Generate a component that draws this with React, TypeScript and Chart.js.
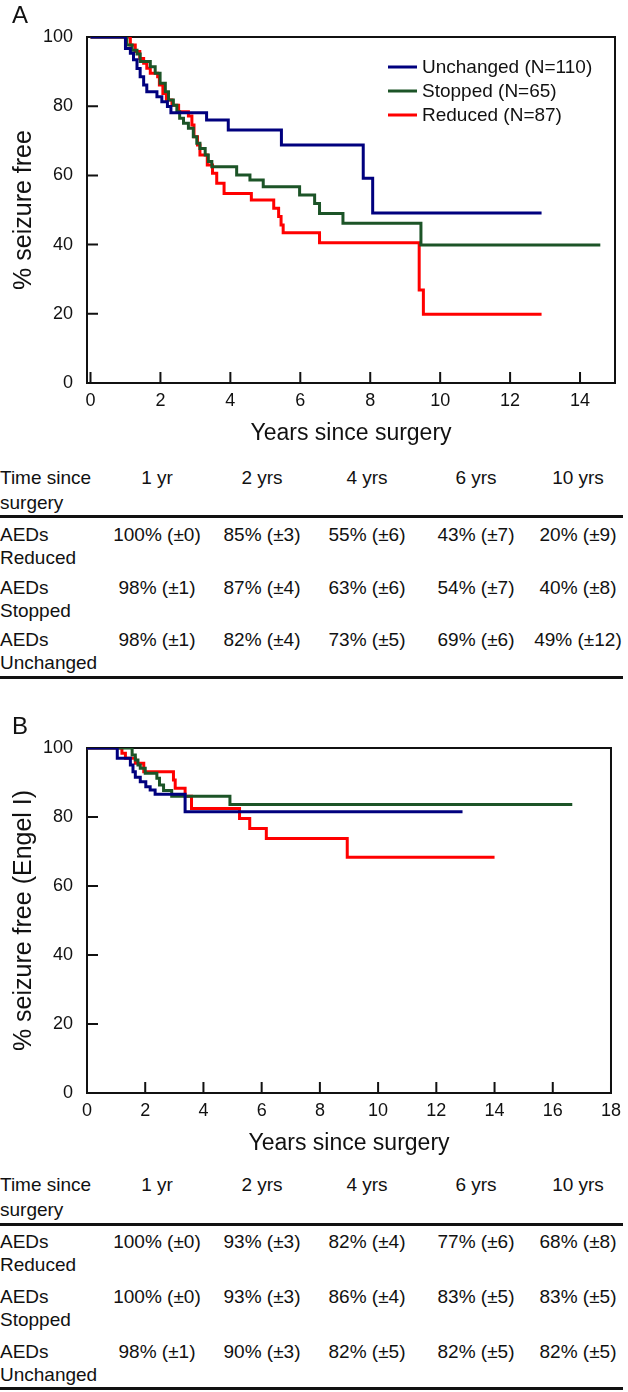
import React, { useEffect, useRef } from "react";
import { Chart, registerables } from "chart.js";
Chart.register(...registerables);

const FONT = '"Liberation Sans", Arial, Helvetica, sans-serif';
const INK = "#111111";

// ---------- Panel A : Kaplan-Meier (years, % seizure free) ----------
const unchangedA_t = [0, 1.0, 1.14, 1.23, 1.33, 1.42, 1.52, 1.61, 1.9, 2.04, 2.2, 2.3, 3.32, 3.94, 5.46, 7.8, 8.07, 12.9];
const unchangedA_s = [100, 96.7, 95.3, 93.4, 90.9, 88.5, 86.1, 84.2, 82.7, 81.3, 79.9, 78.1, 76.0, 73.1, 68.8, 59.2, 49.1, 49.1];

const stoppedA_t = [0, 1.04, 1.19, 1.33, 1.42, 1.71, 1.85, 1.99, 2.14, 2.23, 2.37, 2.47, 2.55, 2.66, 2.8, 2.94, 3.04, 3.13, 3.28, 3.37, 3.47, 4.18, 4.56, 4.94, 5.98, 6.41, 6.55, 7.22, 9.45, 14.58];
const stoppedA_s = [100, 97.7, 96.2, 95.1, 92.9, 91.4, 89.5, 86.6, 84.2, 81.8, 80.3, 78.4, 76.5, 75.1, 73.6, 71.2, 69.3, 67.8, 65.9, 64.0, 62.5, 60.1, 58.7, 56.7, 54.3, 51.9, 49.0, 46.2, 39.9, 39.9];

const reducedA_t = [0, 1.14, 1.28, 1.41, 1.52, 1.61, 1.71, 1.92, 1.97, 2.07, 2.17, 2.33, 2.52, 2.8, 2.9, 2.96, 3.06, 3.13, 3.34, 3.49, 3.61, 3.82, 4.6, 5.24, 5.38, 5.45, 5.51, 6.55, 9.4, 9.52, 12.9];
const reducedA_s = [100, 97.7, 95.8, 93.8, 92.4, 91.0, 89.5, 88.5, 86.1, 83.7, 81.8, 80.3, 78.4, 77.2, 74.6, 71.2, 68.8, 65.9, 63.0, 60.6, 57.7, 54.8, 52.9, 50.5, 48.1, 45.7, 43.4, 40.5, 26.9, 19.9, 19.9];

// ---------- Panel B : Kaplan-Meier (years, % seizure free Engel I) ----------
const unchangedB_t = [0, 1.04, 1.49, 1.58, 1.66, 1.83, 2.02, 2.17, 2.34, 3.37, 12.9];
const unchangedB_s = [100, 97.0, 95.1, 93.1, 91.5, 90.2, 88.8, 87.8, 86.6, 81.5, 81.5];

const stoppedB_t = [0, 1.55, 1.66, 1.75, 1.83, 2.0, 2.4, 2.49, 2.63, 2.91, 4.91, 16.67];
const stoppedB_s = [100, 98.0, 96.5, 95.1, 94.1, 92.7, 91.2, 89.3, 87.7, 86.0, 83.6, 83.6];

const reducedB_t = [0, 1.2, 1.32, 1.66, 1.95, 2.97, 3.03, 3.37, 3.59, 5.24, 5.59, 6.16, 8.94, 14.0];
const reducedB_s = [100, 98.5, 97.0, 95.6, 93.1, 90.7, 88.3, 86.0, 82.5, 79.6, 76.7, 73.8, 68.3, 68.3];

// ---------- Series names ----------
const seriesLabels = ["Unchanged (N=110)", "Stopped (N=65)", "Reduced (N=87)"];
const seriesColors = ["#00007e", "#1c5427", "#ff0000"];

// ---------- Tables ----------
const timeLabels = ["1 yr", "2 yrs", "4 yrs", "6 yrs", "10 yrs"];
const rowLabels = [["AEDs", "Reduced"], ["AEDs", "Stopped"], ["AEDs", "Unchanged"]];
const tableA_reduced = ["100% (±0)", "85% (±3)", "55% (±6)", "43% (±7)", "20% (±9)"];
const tableA_stopped = ["98% (±1)", "87% (±4)", "63% (±6)", "54% (±7)", "40% (±8)"];
const tableA_unchanged = ["98% (±1)", "82% (±4)", "73% (±5)", "69% (±6)", "49% (±12)"];
const tableB_reduced = ["100% (±0)", "93% (±3)", "82% (±4)", "77% (±6)", "68% (±8)"];
const tableB_stopped = ["100% (±0)", "93% (±3)", "86% (±4)", "83% (±5)", "83% (±5)"];
const tableB_unchanged = ["98% (±1)", "90% (±3)", "82% (±5)", "82% (±5)", "82% (±5)"];

const colCenters = [157, 262, 367, 476, 578];

function pts(t: number[], s: number[]) {
  return t.map((x, i) => ({ x, y: s[i] }));
}

function makeDatasets(series: { t: number[]; s: number[] }[]) {
  return series.map((d, i) => ({
    label: seriesLabels[i],
    data: pts(d.t, d.s),
    borderColor: seriesColors[i],
    backgroundColor: seriesColors[i],
    borderWidth: 3,
    pointRadius: 0,
    pointHoverRadius: 0,
    stepped: true,
    fill: false,
    tension: 0,
    borderCapStyle: "butt",
    borderJoinStyle: "miter",
  }));
}

const framePlugin = {
  id: "kmFrame",
  beforeDatasetsDraw(chart: any) {
    const { ctx, chartArea: a, scales } = chart;
    ctx.save();
    ctx.strokeStyle = INK;
    ctx.lineWidth = 2;
    ctx.strokeRect(a.left, a.top, a.right - a.left, a.bottom - a.top);
    const L = 11;
    ctx.beginPath();
    scales.x.ticks.forEach((t: any) => {
      const px = scales.x.getPixelForValue(t.value);
      ctx.moveTo(px, a.bottom);
      ctx.lineTo(px, a.bottom - L);
    });
    scales.y.ticks.forEach((t: any) => {
      const py = scales.y.getPixelForValue(t.value);
      ctx.moveTo(a.left, py);
      ctx.lineTo(a.left + L, py);
    });
    ctx.stroke();
    ctx.restore();
  },
};

const legendPlugin = {
  id: "kmLegend",
  afterDatasetsDraw(chart: any, _args: any, opts: any) {
    if (!opts || !opts.show) return;
    const ctx = chart.ctx;
    ctx.save();
    ctx.font = `19px ${FONT}`;
    ctx.textBaseline = "middle";
    ctx.textAlign = "left";
    chart.data.datasets.forEach((ds: any, i: number) => {
      const y = opts.top + i * opts.gap;
      ctx.strokeStyle = ds.borderColor;
      ctx.lineWidth = 3;
      ctx.beginPath();
      ctx.moveTo(opts.left, y);
      ctx.lineTo(opts.left + 29, y);
      ctx.stroke();
      ctx.fillStyle = INK;
      ctx.fillText(ds.label, opts.left + 34, y + 1);
    });
    ctx.restore();
  },
};

type KMProps = {
  top: number;
  height: number;
  padTop: number;
  xMin: number;
  xMax: number;
  yTitle: string;
  series: { t: number[]; s: number[] }[];
  legend: any;
};

function KMChart({ top, height, padTop, xMin, xMax, yTitle, series, legend }: KMProps) {
  const ref = useRef<HTMLCanvasElement>(null);
  useEffect(() => {
    const chart = new Chart(ref.current as HTMLCanvasElement, {
      type: "line",
      data: { datasets: makeDatasets(series) as any },
      options: {
        animation: false,
        responsive: false,
        maintainAspectRatio: false,
        devicePixelRatio: 1,
        layout: { padding: { left: 0, right: 13, top: padTop, bottom: 0 } },
        plugins: {
          legend: { display: false },
          tooltip: { enabled: false },
          kmLegend: legend,
        } as any,
        scales: {
          x: {
            type: "linear",
            min: xMin,
            max: xMax,
            grid: { display: false, drawTicks: false },
            border: { display: false },
            ticks: {
              stepSize: 2,
              includeBounds: false,
              autoSkip: false,
              maxRotation: 0,
              color: INK,
              padding: 7,
              font: { family: FONT, size: 18 },
            },
            title: {
              display: true,
              text: "Years since surgery",
              color: INK,
              font: { family: FONT, size: 23 },
              padding: { top: 0, bottom: 13 },
            },
            afterFit: (s: any) => {
              s.height = 77;
            },
          },
          y: {
            type: "linear",
            min: 0,
            max: 100,
            grid: { display: false, drawTicks: false },
            border: { display: false },
            ticks: {
              stepSize: 20,
              color: INK,
              padding: 14,
              font: { family: FONT, size: 18 },
            },
            title: {
              display: true,
              text: yTitle,
              color: INK,
              font: { family: FONT, size: 25 },
              padding: { top: 9, bottom: 0 },
            },
            afterFit: (s: any) => {
              s.width = 87;
            },
          },
        },
      },
      plugins: [framePlugin, legendPlugin],
    });
    return () => chart.destroy();
  }, []);
  return (
    <canvas
      ref={ref}
      width={628}
      height={height}
      style={{ position: "absolute", left: 0, top, width: 628, height, display: "block" }}
    />
  );
}

function Txt({ x, y, w, align, children }: { x: number; y: number; w: number; align: "left" | "center"; children: any }) {
  return (
    <div
      style={{
        position: "absolute",
        left: x,
        top: y - 11,
        width: w,
        height: 22,
        lineHeight: "22px",
        textAlign: align,
        fontSize: 19,
        fontFamily: FONT,
        color: INK,
        whiteSpace: "nowrap",
      }}
    >
      {children}
    </div>
  );
}

function Rule({ y }: { y: number }) {
  return <div style={{ position: "absolute", left: 0, top: y - 1.5, width: 623, height: 3, background: INK }} />;
}

function SurvTable({
  headerY,
  lineY,
  rowYs,
  bottomY,
  rows,
}: {
  headerY: number;
  lineY: number;
  rowYs: number[];
  bottomY: number;
  rows: string[][];
}) {
  return (
    <>
      <Txt x={0} y={headerY} w={120} align="left">Time since</Txt>
      <Txt x={0} y={headerY + 25} w={120} align="left">surgery</Txt>
      {timeLabels.map((t, i) => (
        <Txt key={"h" + i} x={colCenters[i] - 60} y={headerY} w={120} align="center">{t}</Txt>
      ))}
      <Rule y={lineY} />
      {rows.map((r, ri) => (
        <React.Fragment key={"r" + ri}>
          <Txt x={0} y={rowYs[ri]} w={120} align="left">{rowLabels[ri][0]}</Txt>
          <Txt x={0} y={rowYs[ri] + 23} w={120} align="left">{rowLabels[ri][1]}</Txt>
          {r.map((v, ci) => (
            <Txt key={"c" + ci} x={colCenters[ci] - 60} y={rowYs[ri]} w={120} align="center">{v}</Txt>
          ))}
        </React.Fragment>
      ))}
      <Rule y={bottomY} />
    </>
  );
}

function PanelLetter({ y, text }: { y: number; text: string }) {
  return (
    <div
      style={{
        position: "absolute",
        left: 12,
        top: y - 13,
        height: 26,
        lineHeight: "26px",
        fontSize: 24,
        fontFamily: FONT,
        color: INK,
      }}
    >
      {text}
    </div>
  );
}

export default function App() {
  return (
    <div style={{ position: "absolute", left: 0, top: 0, width: 628, height: 1392, background: "#fff", overflow: "hidden" }}>
      <KMChart
        top={0}
        height={460}
        padTop={37}
        xMin={-0.1}
        xMax={15}
        yTitle="% seizure free"
        series={[
          { t: unchangedA_t, s: unchangedA_s },
          { t: stoppedA_t, s: stoppedA_s },
          { t: reducedA_t, s: reducedA_s },
        ]}
        legend={{ show: true, left: 388, top: 67, gap: 24 }}
      />
      <PanelLetter y={15} text="A" />
      <SurvTable
        headerY={478}
        lineY={516}
        rowYs={[535, 588, 640]}
        bottomY={677}
        rows={[tableA_reduced, tableA_stopped, tableA_unchanged]}
      />
      <KMChart
        top={700}
        height={470}
        padTop={48}
        xMin={0}
        xMax={18}
        yTitle="% seizure free (Engel I)"
        series={[
          { t: unchangedB_t, s: unchangedB_s },
          { t: stoppedB_t, s: stoppedB_s },
          { t: reducedB_t, s: reducedB_s },
        ]}
        legend={{ show: false }}
      />
      <PanelLetter y={726} text="B" />
      <SurvTable
        headerY={1185}
        lineY={1224}
        rowYs={[1242, 1297, 1352]}
        bottomY={1388}
        rows={[tableB_reduced, tableB_stopped, tableB_unchanged]}
      />
    </div>
  );
}
